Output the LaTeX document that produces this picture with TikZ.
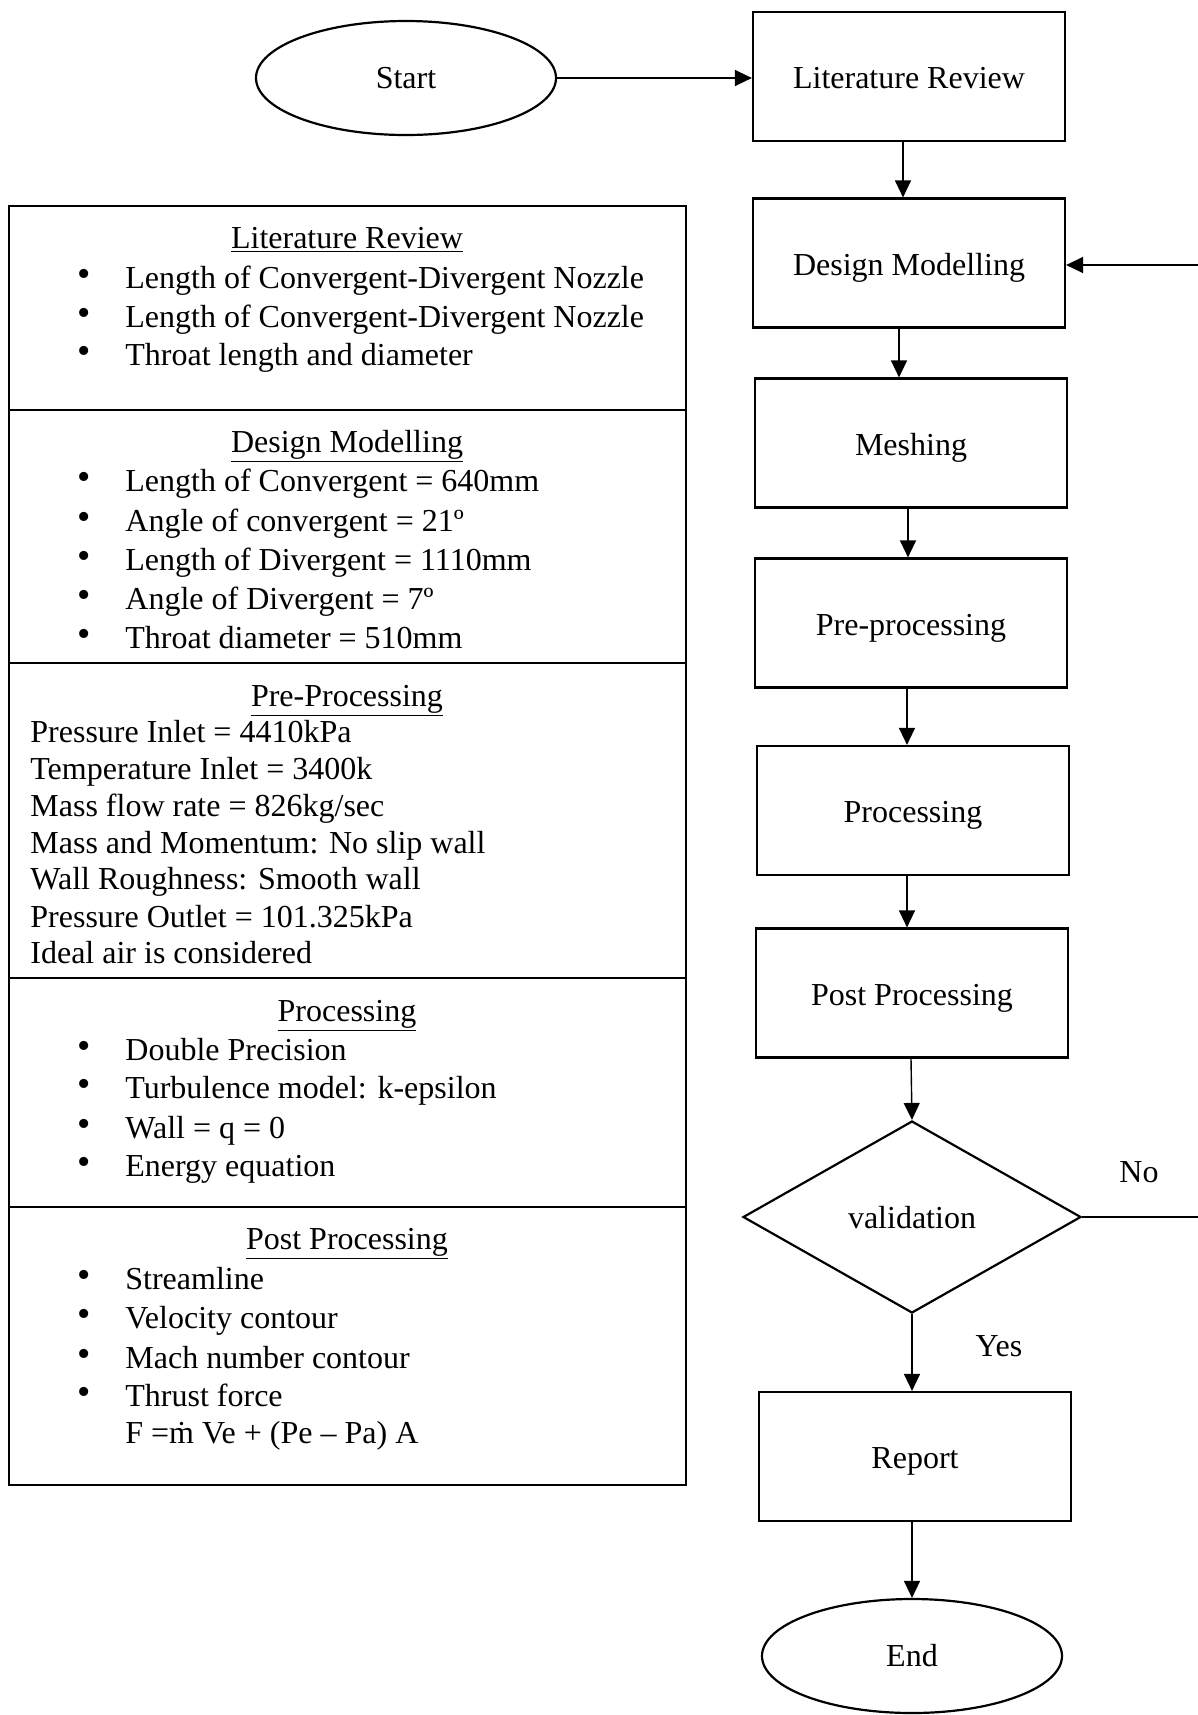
\documentclass[tikz,border=0pt]{standalone}
\usepackage{fontspec}
\setmainfont{Liberation Serif}
\usetikzlibrary{shapes.geometric,arrows.meta}
\begin{document}
\begin{tikzpicture}[x=0.5pt,y=-0.5pt,
  every node/.style={font=\fontsize{16}{19.5}\selectfont},
  box/.style={draw,line width=1.1pt,minimum width=156pt,minimum height=64.5pt,inner sep=0pt,text height=15pt,text depth=3pt},
  oval/.style={ellipse,draw,line width=1.1pt,minimum width=150pt,minimum height=57pt,inner sep=0pt,text height=13pt,text depth=3pt},
  dec/.style={diamond,draw,line width=1.1pt,minimum width=169pt,minimum height=96pt,inner sep=0pt,text height=14.5pt,text depth=3pt},
  arr/.style={line width=0.7pt,-{Triangle[length=8.5pt,width=8pt]}},
  ln/.style={line width=0.7pt},
  frame/.style={line width=1.1pt},
  txt/.style={anchor=west,inner sep=0pt,text height=12pt,text depth=3.5pt,yshift=-1.75pt},
  ttl/.style={anchor=center,inner sep=0pt,text height=12pt,text depth=3.5pt,yshift=-1.75pt},
  bul/.style={anchor=center,inner sep=0pt,font=\fontsize{19}{19}\selectfont,yshift=-1pt}
]
\useasboundingbox (0,0) rectangle (1198,1715);

% flowchart
\node[oval] (start) at (406,78) {Start};
\node[box] (lit) at (909,76.5) {Literature Review};
\node[box] (des) at (909,263) {Design Modelling};
\node[box] (mesh) at (911,443) {Meshing};
\node[box] (pre) at (911,623) {Pre-processing};
\node[box] (proc) at (913,810.5) {Processing};
\node[box] (post) at (912,993) {Post Processing};
\node[dec] (val) at (912,1217) {validation};
\node[box] (rep) at (915,1456.5) {Report};
\node[oval] (end) at (912,1656) {End};

\node (no) at (1139,1172) {No};
\node (yes) at (999,1346) {Yes};

\coordinate (e1) at (1198,1217);
\coordinate (e2) at (1198,265);

\draw[arr] (start.east) -- (lit.west |- start.east);
\draw[arr] (lit.south -| 903,0) -- (des.north -| 903,0);
\draw[arr] (des.south -| 899,0) -- (mesh.north -| 899,0);
\draw[arr] (mesh.south -| 908,0) -- (pre.north -| 908,0);
\draw[arr] (pre.south -| 907,0) -- (proc.north -| 907,0);
\draw[arr] (proc.south -| 907,0) -- (post.north -| 907,0);
\draw[arr] (post.south -| 911,0) -- (val.north);
\draw[arr] (val.south) -- (rep.north -| val.south);
\draw[arr] (rep.south -| end.north) -- (end.north);
\draw[ln] (val.east) -- (e1);
\draw[arr] (e2) -- (des.east |- e2);

% small ticks
\draw[ln] (des.south -| 899,0) -- ++(14,0);
\draw[ln] (mesh.south -| 908,0) -- ++(9,0);
\draw[ln] (pre.south -| 907,0) -- ++(10,0);
\draw[ln] (post.south -| 911,0) -- ++(9,0);

% left panel
\draw[frame] (9,206) rectangle (686,1485);
\foreach \yy in {410,663,978,1207} \draw[frame] (9,\yy) -- (686,\yy);

% section 1
\node[ttl] (h1) at (347,236) {\underline{Literature Review}};
\node[bul] (b11) at (84,276) {\textbullet};
\node[txt] (t11) at (125,276) {Length of Convergent-Divergent Nozzle};
\node[bul] (b12) at (84,315) {\textbullet};
\node[txt] (t12) at (125,315) {Length of Convergent-Divergent Nozzle};
\node[bul] (b13) at (84,353) {\textbullet};
\node[txt] (t13) at (125,353) {Throat length and diameter};

% section 2
\node[ttl] (h2) at (347,440) {\underline{Design Modelling}};
\node[bul] (b21) at (84,479) {\textbullet};
\node[txt] (t21) at (125,479) {Length of Convergent = 640mm};
\node[bul] (b22) at (84,519) {\textbullet};
\node[txt] (t22) at (125,519) {Angle of convergent = 21º};
\node[bul] (b23) at (84,558) {\textbullet};
\node[txt] (t23) at (125,558) {Length of Divergent = 1110mm};
\node[bul] (b24) at (84,597) {\textbullet};
\node[txt] (t24) at (125,597) {Angle of Divergent = 7º};
\node[bul] (b25) at (84,636) {\textbullet};
\node[txt] (t25) at (125,636) {Throat diameter = 510mm};

% section 3
\node[ttl] (h3) at (347,694) {\underline{Pre-Processing}};
\node[txt] (t31) at (30,730) {Pressure Inlet = 4410kPa};
\node[txt] (t32) at (30,767) {Temperature Inlet = 3400k};
\node[txt] (t33) at (30,804) {Mass flow rate = 826kg/sec};
\node[txt] (t34) at (30,841) {Mass and Momentum: No slip wall};
\node[txt] (t35) at (30,877) {Wall Roughness: Smooth wall};
\node[txt] (t36) at (30,915) {Pressure Outlet = 101.325kPa};
\node[txt] (t37) at (30,951) {Ideal air is considered};

% section 4
\node[ttl] (h4) at (347,1009) {\underline{Processing}};
\node[bul] (b41) at (84,1048) {\textbullet};
\node[txt] (t41) at (125,1048) {Double Precision};
\node[bul] (b42) at (84,1086) {\textbullet};
\node[txt] (t42) at (125,1086) {Turbulence model: k-epsilon};
\node[bul] (b43) at (84,1126) {\textbullet};
\node[txt] (t43) at (125,1126) {Wall = q = 0};
\node[bul] (b44) at (84,1164) {\textbullet};
\node[txt] (t44) at (125,1164) {Energy equation};

% section 5
\node[ttl] (h5) at (347,1237) {\underline{Post Processing}};
\node[bul] (b51) at (84,1277) {\textbullet};
\node[txt] (t51) at (125,1277) {Streamline};
\node[bul] (b52) at (84,1316) {\textbullet};
\node[txt] (t52) at (125,1316) {Velocity contour};
\node[bul] (b53) at (84,1356) {\textbullet};
\node[txt] (t53) at (125,1356) {Mach number contour};
\node[bul] (b54) at (84,1394) {\textbullet};
\node[txt] (t54) at (125,1394) {Thrust force};
\node[txt] (t55) at (125,1431) {F =\.{m} Ve + (Pe – Pa) A};
\end{tikzpicture}
\end{document}
